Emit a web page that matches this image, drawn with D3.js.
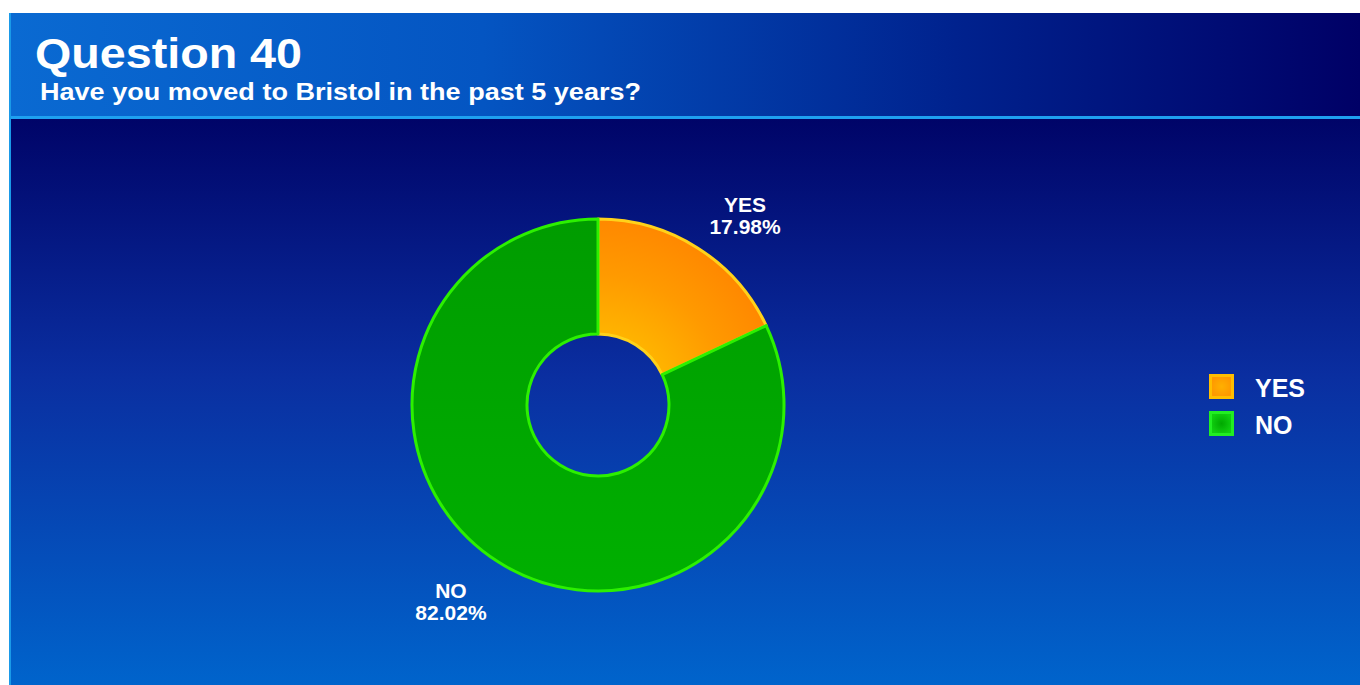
<!DOCTYPE html>
<html>
<head>
<meta charset="utf-8">
<script src="https://cdn.jsdelivr.net/npm/d3@7"></script>
<style>
  html, body { margin: 0; padding: 0; background: #ffffff; }
  svg { display: block; font-family: "Liberation Sans", Arial, sans-serif; }
</style>
</head>
<body>
<svg id="chart" width="1360" height="685"></svg>
<script>
// Survey answers
const categories = ["YES", "NO"];
const shares = [17.98, 82.02];
const sliceFill = ["url(#gradYes)", "url(#gradNo)"];
const sliceStroke = ["#ffd21a", "#2cf000"];
const legendFill = ["url(#legYes)", "url(#legNo)"];
const legendStroke = ["#ffbe00", "#22ee22"];

const title = "Question 40";
const subtitle = "Have you moved to Bristol in the past 5 years?";

const W = 1360, H = 685;
const svg = d3.select("#chart");
const defs = svg.append("defs");

// Header: horizontal blue gradient
const hg = defs.append("linearGradient").attr("id", "gradHeader")
  .attr("x1", 0).attr("x2", 1).attr("y1", 0).attr("y2", 0);
hg.append("stop").attr("offset", "0%").attr("stop-color", "#0a6ad2");
hg.append("stop").attr("offset", "35%").attr("stop-color", "#0455c2");
hg.append("stop").attr("offset", "70%").attr("stop-color", "#00228e");
hg.append("stop").attr("offset", "100%").attr("stop-color", "#000066");

// Body: vertical gradient from navy to bright blue
const bg = defs.append("linearGradient").attr("id", "gradBody")
  .attr("x1", 0).attr("x2", 0).attr("y1", 0).attr("y2", 1);
bg.append("stop").attr("offset", "0%").attr("stop-color", "#000468");
bg.append("stop").attr("offset", "45%").attr("stop-color", "#0a2ea0");
bg.append("stop").attr("offset", "100%").attr("stop-color", "#0064cc");

// Slice gradients, in the donut group's own coordinates (centre at 0,0)
const cx = 598, cy = 405, rOuter = 186, rInner = 71;
const gy = defs.append("radialGradient").attr("id", "gradYes")
  .attr("gradientUnits", "userSpaceOnUse")
  .attr("cx", 0).attr("cy", 0).attr("r", rOuter);
gy.append("stop").attr("offset", "38%").attr("stop-color", "#ffb400");
gy.append("stop").attr("offset", "70%").attr("stop-color", "#ff9a00");
gy.append("stop").attr("offset", "100%").attr("stop-color", "#ff8800");
const gn = defs.append("linearGradient").attr("id", "gradNo")
  .attr("gradientUnits", "userSpaceOnUse")
  .attr("x1", 0).attr("y1", -rOuter).attr("x2", 0).attr("y2", rOuter);
gn.append("stop").attr("offset", "0%").attr("stop-color", "#009c00");
gn.append("stop").attr("offset", "100%").attr("stop-color", "#00b000");

// Legend swatch gradients
const ly = defs.append("radialGradient").attr("id", "legYes");
ly.append("stop").attr("offset", "0%").attr("stop-color", "#ffb000");
ly.append("stop").attr("offset", "100%").attr("stop-color", "#ff9800");
const ln = defs.append("radialGradient").attr("id", "legNo");
ln.append("stop").attr("offset", "0%").attr("stop-color", "#00a800");
ln.append("stop").attr("offset", "100%").attr("stop-color", "#10d010");

// Panels
svg.append("rect").attr("x", 10).attr("y", 13).attr("width", W - 10).attr("height", 104)
  .attr("fill", "url(#gradHeader)");
svg.append("rect").attr("x", 10).attr("y", 119).attr("width", W - 10).attr("height", H - 119)
  .attr("fill", "url(#gradBody)");
svg.append("rect").attr("x", 10).attr("y", 116).attr("width", W - 10).attr("height", 3)
  .attr("fill", "#1ea0f0");
svg.append("rect").attr("x", 9).attr("y", 13).attr("width", 2).attr("height", H - 13)
  .attr("fill", "#1a9ae8");

// Titles
svg.append("text").attr("x", 35).attr("y", 68)
  .attr("fill", "#ffffff").attr("font-weight", "bold").attr("font-size", 42)
  .attr("textLength", 267).attr("lengthAdjust", "spacingAndGlyphs")
  .text(title);
svg.append("text").attr("x", 40).attr("y", 100)
  .attr("fill", "#ffffff").attr("font-weight", "bold").attr("font-size", 24)
  .attr("textLength", 601).attr("lengthAdjust", "spacingAndGlyphs")
  .text(subtitle);

// Donut
const data = categories.map((c, i) => ({ cat: c, value: shares[i], i }));
const pie = d3.pie().value(d => d.value).sort(null);
const arcs = pie(data);
const arc = d3.arc().innerRadius(rInner).outerRadius(rOuter);
const labelArc = d3.arc().innerRadius(228).outerRadius(228);

const g = svg.append("g").attr("transform", `translate(${cx},${cy})`);
g.selectAll("path.slice").data(arcs).join("path")
  .attr("class", "slice")
  .attr("d", arc)
  .attr("fill", d => sliceFill[d.data.i])
  .attr("stroke", d => sliceStroke[d.data.i])
  .attr("stroke-width", 3)
  .attr("stroke-linejoin", "round");

// Slice labels, pushed sideways away from the centre line
const fmt = d3.format(".2f");
const lbl = g.selectAll("g.lbl").data(arcs).join("g")
  .attr("class", "lbl")
  .attr("transform", d => {
    const [x, y] = labelArc.centroid(d);
    return `translate(${x + Math.sign(x) * 25},${y})`;
  });
lbl.append("text").attr("text-anchor", "middle").attr("y", 0)
  .attr("fill", "#ffffff").attr("font-weight", "bold").attr("font-size", 21)
  .text(d => d.data.cat);
lbl.append("text").attr("text-anchor", "middle").attr("y", 22)
  .attr("fill", "#ffffff").attr("font-weight", "bold").attr("font-size", 21)
  .text(d => fmt(d.data.value) + "%");

// Legend
const leg = svg.append("g").attr("transform", "translate(1209,374)");
const item = leg.selectAll("g").data(categories).join("g")
  .attr("transform", (d, i) => `translate(0,${i * 37})`);
item.append("rect").attr("x", 1.5).attr("y", 1.5).attr("width", 22).attr("height", 22)
  .attr("fill", (d, i) => legendFill[i])
  .attr("stroke", (d, i) => legendStroke[i]).attr("stroke-width", 3);
item.append("text").attr("x", 46).attr("y", 23)
  .attr("fill", "#ffffff").attr("font-weight", "bold").attr("font-size", 25)
  .text(d => d);
</script>
</body>
</html>
